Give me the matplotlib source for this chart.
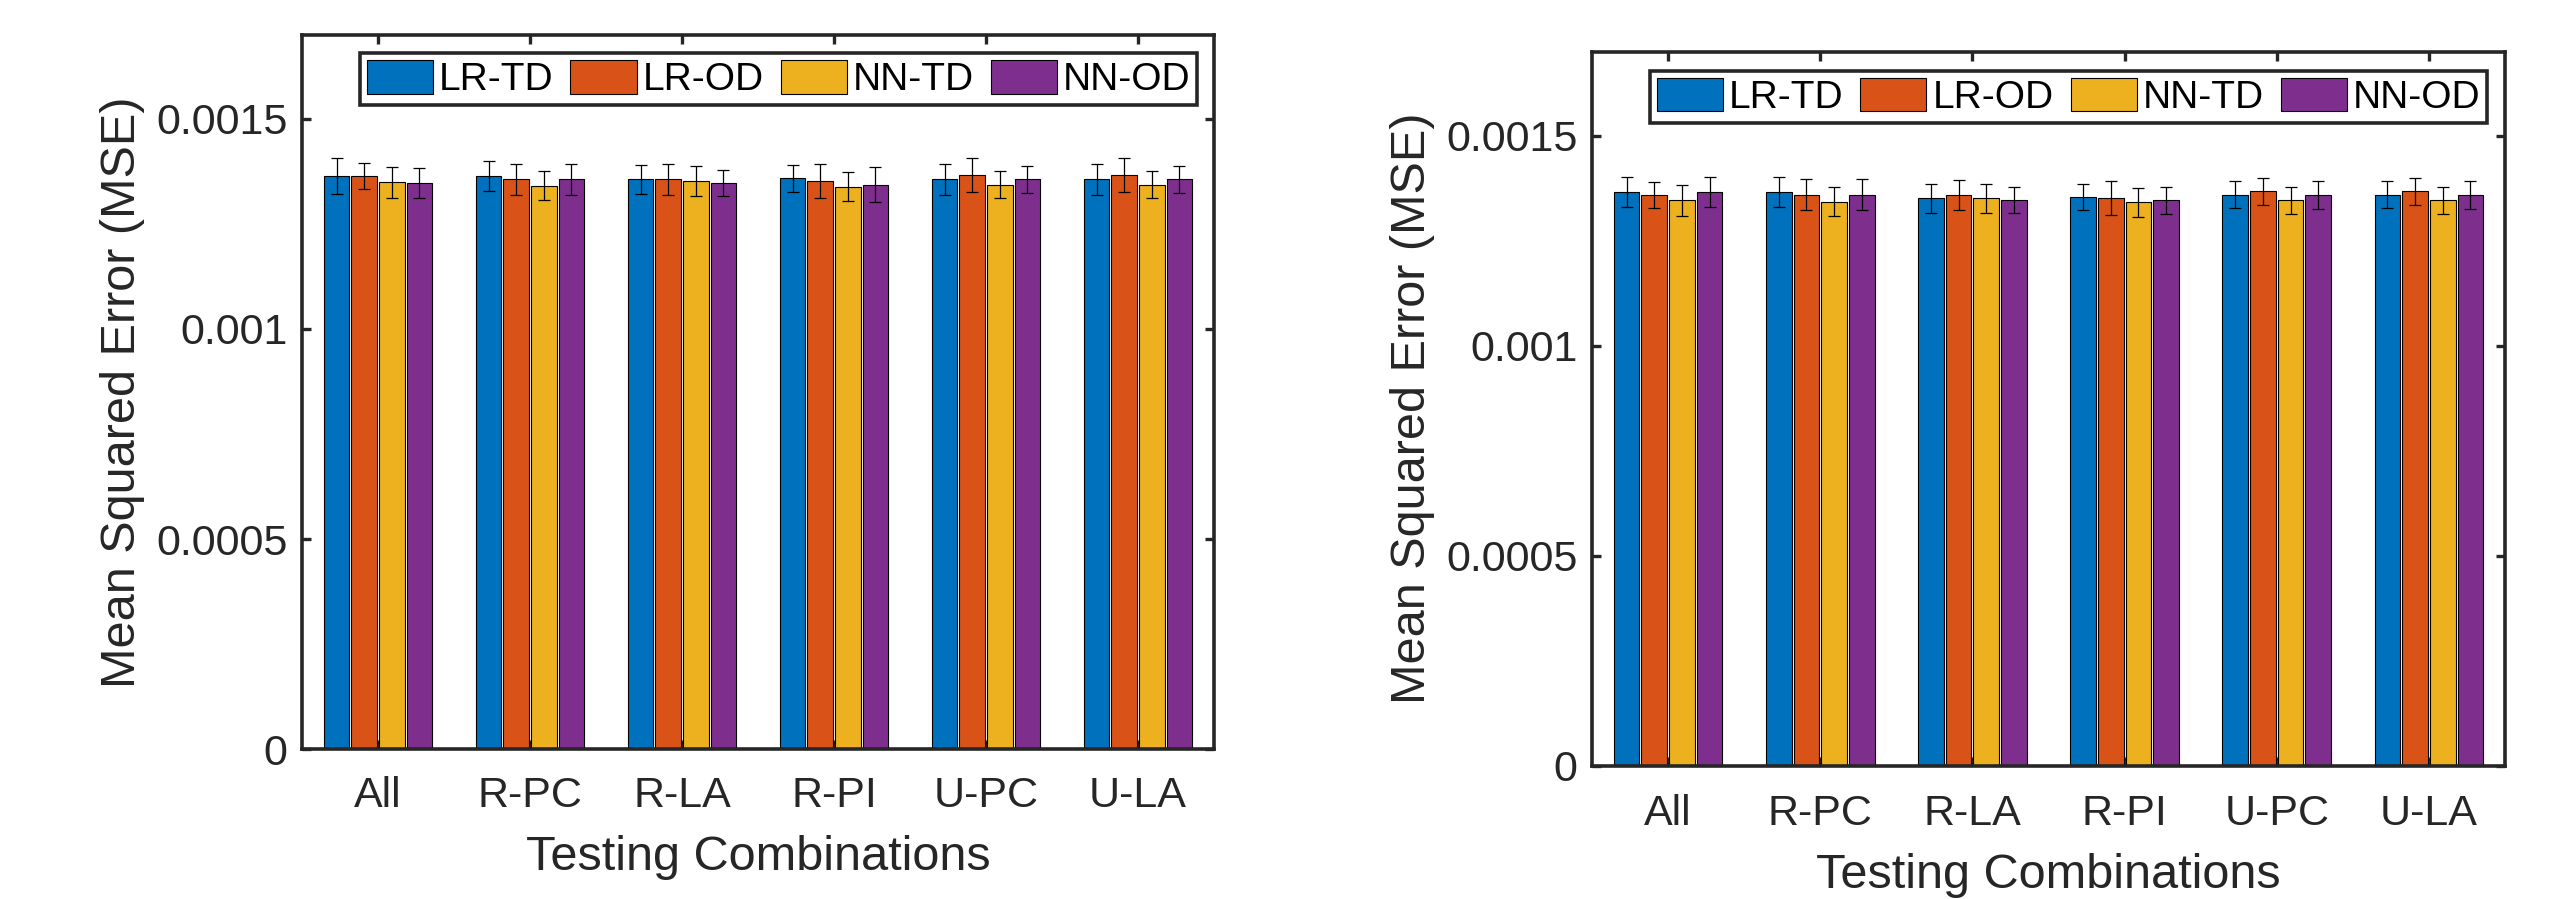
import numpy as np
import matplotlib
matplotlib.use("Agg")
import matplotlib.pyplot as plt
import matplotlib.patches as mpatches

plt.rcParams["font.family"] = ["Liberation Sans", "DejaVu Sans"]

# ---------------------------------------------------------------------------
# data (MSE values in units of 1e-3)
# ---------------------------------------------------------------------------
combos = ["All", "R-PC", "R-LA", "R-PI", "U-PC", "U-LA"]
methods = ["LR-TD", "LR-OD", "NN-TD", "NN-OD"]
colors = ["#0072BD", "#D95319", "#EDB120", "#7E2F8E"]

ytick_vals = [0, 0.0005, 0.001, 0.0015]
ytick_labels = ["0", "0.0005", "0.001", "0.0015"]

# left panel
left_lr_td = [1.364, 1.364, 1.356, 1.359, 1.356, 1.356]
left_lr_od = [1.364, 1.356, 1.356, 1.352, 1.367, 1.367]
left_nn_td = [1.349, 1.341, 1.352, 1.339, 1.344, 1.344]
left_nn_od = [1.347, 1.356, 1.347, 1.344, 1.356, 1.356]

left_lr_td_err = [0.042, 0.035, 0.034, 0.032, 0.037, 0.037]
left_lr_od_err = [0.031, 0.037, 0.036, 0.041, 0.040, 0.040]
left_nn_td_err = [0.037, 0.034, 0.035, 0.035, 0.032, 0.032]
left_nn_od_err = [0.036, 0.037, 0.031, 0.041, 0.033, 0.033]

# right panel
right_lr_td = [1.366, 1.366, 1.351, 1.354, 1.359, 1.359]
right_lr_od = [1.359, 1.359, 1.359, 1.351, 1.368, 1.368]
right_nn_td = [1.346, 1.343, 1.351, 1.341, 1.346, 1.346]
right_nn_od = [1.366, 1.359, 1.348, 1.346, 1.359, 1.359]

right_lr_td_err = [0.035, 0.036, 0.035, 0.031, 0.032, 0.032]
right_lr_od_err = [0.031, 0.037, 0.036, 0.040, 0.032, 0.032]
right_nn_td_err = [0.037, 0.034, 0.035, 0.034, 0.032, 0.032]
right_nn_od_err = [0.035, 0.037, 0.031, 0.033, 0.033, 0.033]

SCALE = 1e-3

AX_COLOR = "#262626"


def draw_panel(ax, vals, errs, legend_anchor, xpad):
    x = np.arange(1, len(combos) + 1)
    n = len(methods)
    group_w = n / (n + 1.5)
    pitch = group_w / n
    bar_w = pitch * 0.925
    for i, (v, e, c, m) in enumerate(zip(vals, errs, colors, methods)):
        pos = x - group_w / 2 + pitch * (i + 0.5)
        ax.bar(pos, np.array(v) * SCALE, width=bar_w, color=c,
               edgecolor="black", linewidth=0.8, label=m, zorder=2)
        ax.errorbar(pos, np.array(v) * SCALE, yerr=np.array(e) * SCALE,
                    fmt="none", ecolor="black", elinewidth=0.9,
                    capsize=4.6, capthick=0.9, zorder=3)

    ax.set_xlim(0.5, 6.5)
    ax.set_ylim(0, 0.0017)
    ax.set_xticks(x)
    ax.set_xticklabels(combos)
    ax.set_yticks(ytick_vals)
    ax.set_yticklabels(ytick_labels)

    for s in ax.spines.values():
        s.set_linewidth(2.6)
        s.set_color(AX_COLOR)
    ax.tick_params(axis="both", direction="in", length=6.5, width=2.4,
                   colors=AX_COLOR, labelsize=31, top=True, right=True)
    ax.tick_params(axis="x", pad=xpad)
    ax.tick_params(axis="y", pad=10.5)

    ax.set_xlabel("Testing Combinations", fontsize=35, color=AX_COLOR,
                  labelpad=13.7)
    ax.set_ylabel("Mean Squared Error (MSE)", fontsize=35, color=AX_COLOR,
                  labelpad=7.6)

    handles = [mpatches.Patch(facecolor=c, edgecolor="black", linewidth=0.8,
                              label=m) for c, m in zip(colors, methods)]
    leg = ax.legend(handles=handles, loc="upper right",
                    bbox_to_anchor=legend_anchor, ncol=4, fontsize=28,
                    frameon=True, fancybox=False, framealpha=1,
                    borderpad=0.18, borderaxespad=0, handlelength=1.7,
                    handleheight=0.95, handletextpad=0.15,
                    columnspacing=0.44)
    leg.get_frame().set_edgecolor(AX_COLOR)
    leg.get_frame().set_linewidth(2.6)


fig = plt.figure(figsize=(25.54, 8.99), dpi=100)
ax1 = fig.add_axes([0.11825, 0.16685, 0.35709, 0.79422])
ax2 = fig.add_axes([0.62334, 0.14828, 0.35748, 0.79422])

draw_panel(ax1,
           [left_lr_td, left_lr_od, left_nn_td, left_nn_od],
           [left_lr_td_err, left_lr_od_err, left_nn_td_err, left_nn_od_err],
           (0.9817, 0.9744), 19.5)
draw_panel(ax2,
           [right_lr_td, right_lr_od, right_nn_td, right_nn_od],
           [right_lr_td_err, right_lr_od_err, right_nn_td_err, right_nn_od_err],
           (0.9806, 0.9734), 20.5)

fig.savefig("out.png", dpi=100)
